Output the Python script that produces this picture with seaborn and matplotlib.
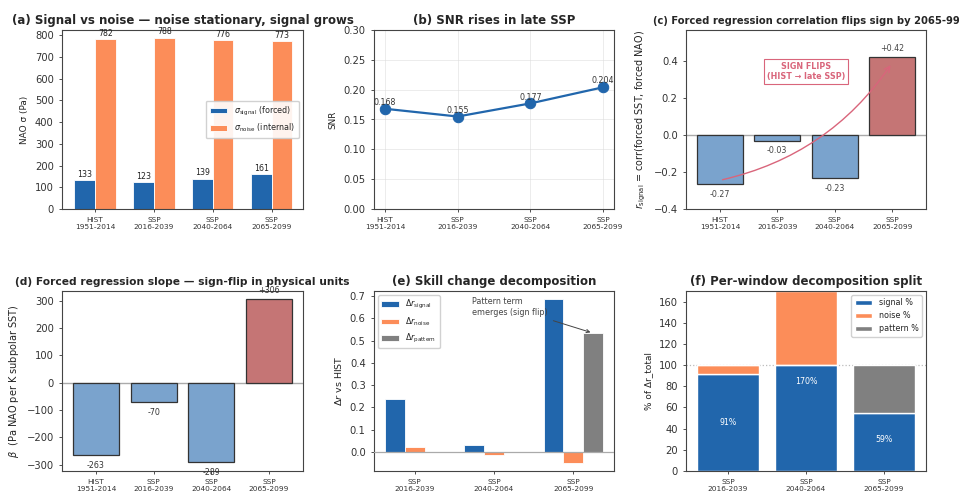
import numpy as np
import pandas as pd
import matplotlib
matplotlib.use("Agg")
import matplotlib.pyplot as plt
import seaborn as sns

# ---------------- data ----------------
windows = ["HIST\n1951-2014", "SSP\n2016-2039", "SSP\n2040-2064", "SSP\n2065-2099"]
sigma_signal = [133, 123, 139, 161]
sigma_noise = [782, 788, 776, 773]
snr = [0.168, 0.155, 0.177, 0.204]
r_signal = [-0.266, -0.031, -0.234, 0.423]
beta = [-263, -70, -289, 306]
ssp_windows = ["SSP\n2016-2039", "SSP\n2040-2064", "SSP\n2065-2099"]
dr_signal = [0.236, 0.033, 0.686]
dr_noise = [0.022, -0.013, -0.048]
dr_pattern = [0.0, 0.0, 0.533]
pct_signal = [91.4, 170.0, 58.7]
pct_noise = [8.6, -70.0, -4.1]
pct_pattern = [0.0, 0.0, 45.4]

BLUE = "#2166ac"
ORANGE = "#fc8d59"
GREY = "#808080"
LBLUE = "#7aa3cd"
LRED = "#c57575"
PINK = "#d9657b"

sns.set_style("white")
plt.rcParams.update({
    "font.family": ["DejaVu Sans"],
    "axes.edgecolor": "#444444",
    "axes.linewidth": 0.8,
    "xtick.bottom": True,
    "ytick.left": True,
    "xtick.major.size": 2.5,
    "ytick.major.size": 2.5,
    "xtick.major.width": 0.6,
    "ytick.major.width": 0.6,
    "xtick.color": "#333333",
    "ytick.color": "#333333",
    "ytick.labelsize": 7.2,
    "xtick.labelsize": 5.3,
    "axes.labelsize": 6.4,
    "axes.labelcolor": "#222222",
})

W, H = 959, 494
fig = plt.figure(figsize=(W / 100, H / 100), dpi=100)


def add_ax(l, t, r, b):
    return fig.add_axes([l / W, 1 - b / H, (r - l) / W, (b - t) / H])


cols = [(62, 303), (374, 614), (686, 926)]
rows = [(30, 209), (291, 471)]
axa = add_ax(cols[0][0], rows[0][0], cols[0][1], rows[0][1])
axb = add_ax(cols[1][0], rows[0][0], cols[1][1], rows[0][1])
axc = add_ax(cols[2][0], rows[0][0], cols[2][1], rows[0][1])
axd = add_ax(cols[0][0], rows[1][0], cols[0][1], rows[1][1])
axe = add_ax(cols[1][0], rows[1][0], cols[1][1], rows[1][1])
axf = add_ax(cols[2][0], rows[1][0], cols[2][1], rows[1][1])

TFS = 8.5
TPAD = 4
LAB = 5.7

# ---------------- (a) ----------------
df_a = pd.DataFrame({
    "window": windows * 2,
    "component": ["signal"] * 4 + ["noise"] * 4,
    "sigma": sigma_signal + sigma_noise,
})
sns.barplot(data=df_a, x="window", y="sigma", hue="component", order=windows,
            hue_order=["signal", "noise"], palette={"signal": BLUE, "noise": ORANGE},
            width=0.7, gap=0, saturation=1, edgecolor="white", linewidth=0.6,
            errorbar=None, ax=axa, zorder=2)
for i, (s, n) in enumerate(zip(sigma_signal, sigma_noise)):
    axa.text(i - 0.175, s + 6, f"{s}", ha="center", va="bottom", fontsize=LAB, color="#222")
    axa.text(i + 0.175, n + 6, f"{n}", ha="center", va="bottom", fontsize=LAB, color="#222")
axa.set_xlim(-0.56, 3.53)
axa.set_ylim(0, 823)
axa.set_yticks(np.arange(0, 801, 100))
axa.set_xlabel("")
axa.set_ylabel("NAO σ (Pa)")
h, l = axa.get_legend_handles_labels()
axa.legend(h, [r"$\sigma_{\rm signal}$ (forced)", r"$\sigma_{\rm noise}$ (internal)"],
           loc="center right", fontsize=5.8, frameon=True, framealpha=0.9,
           edgecolor="#cccccc", fancybox=True, handlelength=2.2, borderpad=0.5)
axa.set_title("(a) Signal vs noise — noise stationary, signal grows",
              fontsize=TFS, fontweight="bold", pad=TPAD)

# ---------------- (b) ----------------
xb = list(range(len(windows)))
sns.lineplot(x=xb, y=snr, marker="o", markersize=7.5, linewidth=1.6, color=BLUE,
             markeredgecolor=BLUE, ax=axb, zorder=3)
for x, v in zip(xb, snr):
    axb.text(x, v + 0.003, f"{v:.3f}", ha="center", va="bottom", fontsize=LAB, color="#333")
axb.set_xticks(xb)
axb.set_xticklabels(windows)
axb.set_xlim(-0.15, 3.15)
axb.set_ylim(0, 0.30)
axb.grid(True, color="#dddddd", linewidth=0.5, alpha=0.8)
axb.set_ylabel("SNR")
axb.set_title("(b) SNR rises in late SSP", fontsize=TFS, fontweight="bold", pad=TPAD)

# ---------------- (c) ----------------
col_c = [LRED if v > 0 else LBLUE for v in r_signal]
sns.barplot(x=windows, y=r_signal, hue=windows, palette=col_c, legend=False,
            width=0.8, saturation=1, edgecolor="#333333", linewidth=0.9,
            errorbar=None, ax=axc, zorder=2)
axc.axhline(0, color="#aaaaaa", linewidth=1.0, zorder=1)
for i, v in enumerate(r_signal):
    if v < 0:
        axc.text(i, v - 0.03, f"{v:+.2f}", ha="center", va="top", fontsize=LAB, color="#444")
    else:
        axc.text(i, v + 0.022, f"{v:+.2f}", ha="center", va="bottom", fontsize=LAB, color="#444")
axc.set_xlim(-0.59, 3.59)
axc.set_ylim(-0.4, 0.567)
axc.set_yticks([-0.4, -0.2, 0.0, 0.2, 0.4])
axc.set_ylabel(r"$r_{\rm signal}$ = corr(forced SST, forced NAO)", fontsize=6.9)
axc.annotate("", xy=(3, 0.39), xytext=(0, -0.245),
             arrowprops=dict(arrowstyle="->", color=PINK, lw=1.0,
                             connectionstyle="arc3,rad=0.2"), zorder=4)
axc.text(1.5, 0.343, "SIGN FLIPS\n(HIST → late SSP)", ha="center", va="center",
         fontsize=5.8, fontweight="bold", color=PINK, linespacing=1.2,
         bbox=dict(boxstyle="square,pad=0.3", facecolor="white", edgecolor=PINK, linewidth=0.8),
         zorder=5)
axc.set_title("(c) Forced regression correlation flips sign by 2065-99",
              fontsize=7.2, fontweight="bold", pad=TPAD)

# ---------------- (d) ----------------
col_d = [LRED if v > 0 else LBLUE for v in beta]
sns.barplot(x=windows, y=beta, hue=windows, palette=col_d, legend=False,
            width=0.8, saturation=1, edgecolor="#333333", linewidth=0.9,
            errorbar=None, ax=axd, zorder=2)
axd.axhline(0, color="#aaaaaa", linewidth=1.0, zorder=1)
for i, v in enumerate(beta):
    if v < 0:
        axd.text(i, v - 40, f"{v:+.0f}", ha="center", va="center", fontsize=LAB, color="#333")
    else:
        axd.text(i, v + 33, f"{v:+.0f}", ha="center", va="center", fontsize=LAB, color="#333")
axd.set_xlim(-0.59, 3.59)
axd.set_ylim(-323, 336)
axd.set_ylabel(r"$\beta$  (Pa NAO per K subpolar SST)", fontsize=7.0)
axd.set_title("(d) Forced regression slope — sign-flip in physical units",
              fontsize=7.7, fontweight="bold", pad=TPAD)

# ---------------- (e) ----------------
df_e = pd.DataFrame({
    "window": ssp_windows * 3,
    "component": ["signal"] * 3 + ["noise"] * 3 + ["pattern"] * 3,
    "dr": dr_signal + dr_noise + dr_pattern,
})
sns.barplot(data=df_e, x="window", y="dr", hue="component", order=ssp_windows,
            hue_order=["signal", "noise", "pattern"],
            palette={"signal": BLUE, "noise": ORANGE, "pattern": GREY},
            width=0.75, gap=0, saturation=1, edgecolor="white", linewidth=0.6,
            errorbar=None, ax=axe, zorder=2)
axe.axhline(0, color="#aaaaaa", linewidth=0.9, zorder=3)
axe.set_xlim(-0.5125, 2.5125)
axe.set_ylim(-0.085, 0.722)
axe.set_xlabel("")
axe.set_ylabel(r"$\Delta r$ vs HIST", fontsize=6.8)
h, l = axe.get_legend_handles_labels()
axe.legend(h, [r"$\Delta r_{\rm signal}$", r"$\Delta r_{\rm noise}$", r"$\Delta r_{\rm pattern}$"],
           loc="upper left", fontsize=5.8, frameon=True, framealpha=0.9,
           edgecolor="#cccccc", handlelength=2.2)
axe.annotate("Pattern term\nemerges (sign flip)", xy=(2.25, dr_pattern[2]),
             xytext=(0.72, 0.65), ha="left", va="center", fontsize=5.8, color="#444",
             arrowprops=dict(arrowstyle="->", color="#444", lw=0.7))
axe.set_title("(e) Skill change decomposition", fontsize=TFS, fontweight="bold", pad=TPAD)

# ---------------- (f) ----------------
xf = np.arange(len(ssp_windows))
bot_p = [s + n for s, n in zip(pct_signal, pct_noise)]
axf.bar(xf, pct_signal, width=0.8, color=BLUE, label="signal %", zorder=2)
axf.bar(xf, pct_noise, bottom=pct_signal, width=0.8, color=ORANGE, label="noise %", zorder=2)
axf.bar(xf, pct_pattern, bottom=bot_p, width=0.8, color=GREY, label="pattern %", zorder=2)
axf.axhline(100, color="#bbbbbb", linestyle=":", linewidth=0.9, zorder=1)
for x, s in zip(xf, pct_signal):
    axf.text(x, s / 2, f"{s:.0f}%", ha="center", va="center", fontsize=LAB, color="white", zorder=4)
axf.set_xticks(xf)
axf.set_xticklabels(ssp_windows)
axf.set_xlim(-0.54, 2.54)
axf.set_ylim(0, 170)
axf.set_ylabel("% of Δr_total")
axf.legend(loc="upper right", fontsize=5.8, frameon=True, framealpha=0.9,
           edgecolor="#cccccc", handlelength=2.2)
axf.set_title("(f) Per-window decomposition split", fontsize=TFS, fontweight="bold", pad=TPAD)

for ax in [axa, axb, axc, axd, axe, axf]:
    ax.set_xlabel("")
    for sp in ax.spines.values():
        sp.set_visible(True)

fig.savefig("out.png", dpi=100)
